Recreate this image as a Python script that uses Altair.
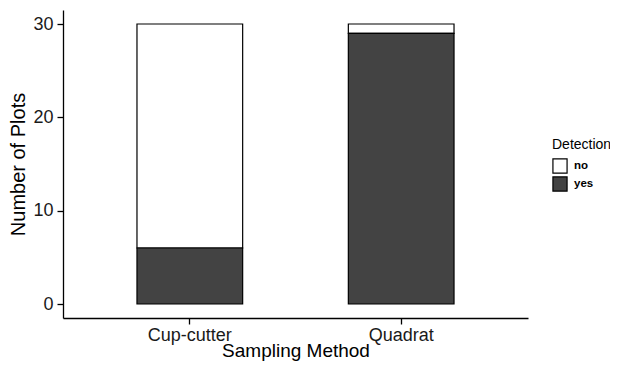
import altair as alt
import pandas as pd

methods = ["Cup-cutter", "Cup-cutter", "Quadrat", "Quadrat"]
detection = ["no", "yes", "no", "yes"]
counts = [24, 6, 1, 29]
stack_order = [1, 0, 1, 0]

df = pd.DataFrame({"Method": methods, "Detection": detection,
                   "Plots": counts, "ord": stack_order})

FONT = "Liberation Sans"

chart = alt.Chart(df).mark_bar(stroke="black", strokeWidth=1.2).encode(
    x=alt.X("Method:N", title="Sampling Method",
            scale=alt.Scale(paddingInner=0.5, paddingOuter=0.35),
            axis=alt.Axis(labelAngle=0, labelFontSize=18, titleFontSize=19,
                          labelPadding=2, tickSize=6,
                          titleY=38, titleBaseline="alphabetic")),
    y=alt.Y("Plots:Q", stack="zero", title="Number of Plots",
            scale=alt.Scale(domain=[-1.5, 31.5], nice=False, zero=False),
            axis=alt.Axis(values=[0, 10, 20, 30], labelFontSize=18, titleFontSize=20,
                          labelPadding=4, titlePadding=4, tickSize=6)),
    color=alt.Color("Detection:N",
                    scale=alt.Scale(domain=["no", "yes"], range=["#ffffff", "#434343"]),
                    legend=alt.Legend(title="Detection", symbolType="square",
                                      symbolSize=200, symbolStrokeColor="black",
                                      symbolStrokeWidth=1.2, rowPadding=-10,
                                      labelFontSize=11.5, labelFontWeight="bold",
                                      titleFontSize=14, titlePadding=6,
                                      titleFontWeight="normal", labelOffset=6,
                                      orient="none", legendX=489, legendY=128,
                                      padding=0)),
    order=alt.Order("ord:Q", sort="ascending"),
).properties(
    width=465, height=308,
    autosize=alt.AutoSizeParams(type="none"),
    padding={"left": 55, "top": 2, "right": 82, "bottom": 43},
).configure_view(
    stroke=None
).configure_axis(
    grid=False, domainColor="black", tickColor="black", domainWidth=1.3,
    tickWidth=1.3, labelColor="#1a1a1a", titleColor="black",
    labelFont=FONT, titleFont=FONT, titleFontWeight="normal"
).configure_legend(
    labelFont=FONT, titleFont=FONT, labelColor="black", titleColor="black"
)

chart.save("out.html", embed_options={"renderer": "svg", "actions": False})
